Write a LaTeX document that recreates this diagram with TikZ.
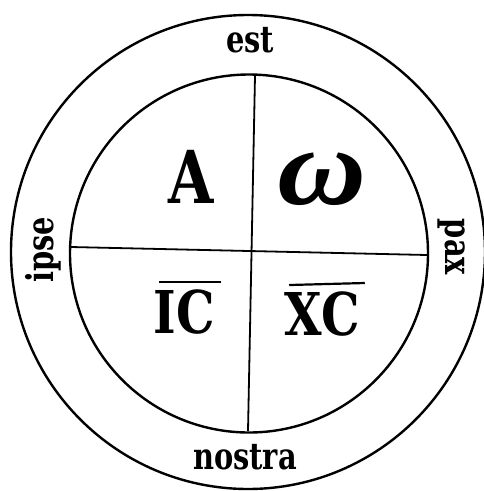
\documentclass[tikz,border=0pt]{standalone}
\usepackage{fontspec}
\setmainfont{DejaVu Serif}
\newfontfamily\omegafont{Liberation Serif}
\begin{document}
\begin{tikzpicture}[x=1pt,y=-1pt,
  ring/.style={draw, line width=2.4pt, circle, inner sep=0pt},
  rule/.style={line width=1.8pt},
  word/.style={font=\fontsize{37}{37}\selectfont\bfseries, inner sep=0pt, anchor=base},
  bigletter/.style={font=\fontsize{73}{73}\selectfont\bfseries, inner sep=0pt, anchor=base},
  mono/.style={font=\fontsize{59}{59}\selectfont\bfseries, inner sep=0pt, anchor=base},
  bar/.style={line width=2.2pt}
]
\useasboundingbox (0,0) rectangle (483,491);
\node[ring, minimum size=474pt] (outer) at (248,252) {};
\node[ring, minimum size=358pt] (inner) at (249,253.5) {};
\coordinate (vt) at (255,76);
\coordinate (vb) at (248,431);
\coordinate (hl) at (71,247);
\coordinate (hr) at (427,255);
\draw[rule] (vt) -- (vb);
\draw[rule] (hl) -- (hr);
\node[word, xscale=0.78] (est) at (250,52) {est};
\node[word, xscale=0.78] (nostra) at (245,469) {nostra};
\node[word, rotate=90, xscale=0.78] (ipse) at (53,250) {ipse};
\node[word, rotate=-90, xscale=0.78] (pax) at (445,247) {pax};
\node[bigletter, xscale=0.8] (alpha) at (191,203) {A};
\node[font=\fontsize{110}{110}\omegafont\bfseries\itshape, inner sep=0pt, xscale=1.12] (omega) at (322,179) {ω};
\node[mono, xscale=0.82] (ic) at (184,333) {IC};
\node[mono, xscale=0.82] (xc) at (322,335) {XC};
\draw[bar] ([xshift=6pt,yshift=7pt]ic.north west) -- ([xshift=6pt,yshift=7pt]ic.north east);
\draw[bar] ([xshift=5pt,yshift=6pt]xc.north west) -- ([xshift=5pt,yshift=8pt]xc.north east);
\end{tikzpicture}
\end{document}
